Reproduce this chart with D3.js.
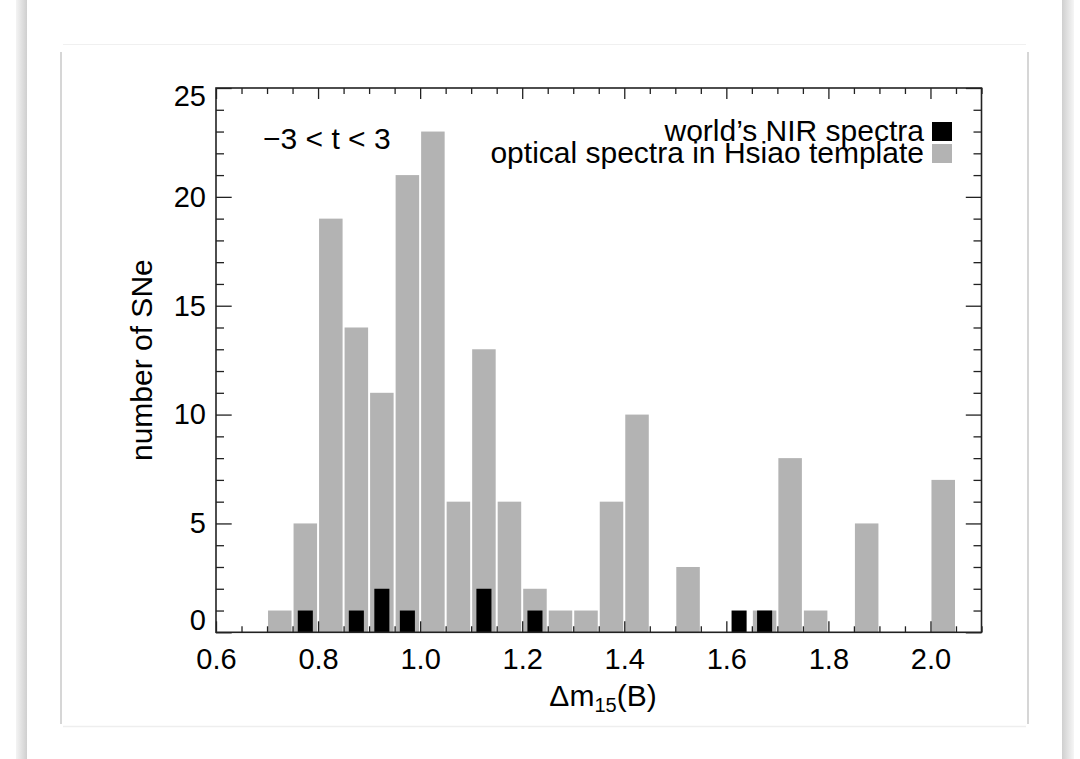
<!DOCTYPE html>
<html>
<head>
<meta charset="utf-8">
<script src="https://cdn.jsdelivr.net/npm/d3@7"></script>
<style>
  html, body { margin: 0; padding: 0; background: #fff; }
  svg { display: block; font-family: "Liberation Sans", Arial, Helvetica, sans-serif; }
</style>
</head>
<body>
<svg id="chart" width="1080" height="759"></svg>
<script>
// ---- data ----
const binStarts = [0.70,0.75,0.80,0.85,0.90,0.95,1.00,1.05,1.10,1.15,1.20,1.25,1.30,1.35,1.40,1.45,1.50,1.55,1.60,1.65,1.70,1.75,1.80,1.85,1.90,1.95,2.00];
const opticalCounts = [1,5,19,14,11,21,23,6,13,6,2,1,1,6,10,0,3,0,0,1,8,1,0,5,0,0,7];
const nirCounts     = [0,1,0,1,2,1,0,0,2,0,1,0,0,0,0,0,0,0,1,1,0,0,0,0,0,0,0];
const binWidth = 0.05;
const xTicks = [0.6,0.8,1.0,1.2,1.4,1.6,1.8,2.0];
const xTickLabels = ["0.6","0.8","1.0","1.2","1.4","1.6","1.8","2.0"];
const yTicks = [0,5,10,15,20,25];
const xDomain = [0.6, 2.1];
const yDomain = [0, 25];
const seriesNames = ["world\u2019s NIR spectra", "optical spectra in Hsiao template"];
const seriesColors = ["#000000", "#b3b3b3"];
const annotation = "\u22123 < t < 3";
const xLabel = ["\u0394m", "15", "(B)"];
const yLabel = "number of SNe";

// ---- layout ----
const L = 216, R = 981.5, T = 88, B = 632.3;
const svg = d3.select("#chart");

// page decoration: side shadows and card
const defs = svg.append("defs");
const gl = defs.append("linearGradient").attr("id","gl").attr("x1","0").attr("x2","1");
gl.append("stop").attr("offset","0").attr("stop-color","#f4f4f4");
gl.append("stop").attr("offset","1").attr("stop-color","#cfcfcf");
const gr = defs.append("linearGradient").attr("id","gr").attr("x1","0").attr("x2","1");
gr.append("stop").attr("offset","0").attr("stop-color","#cfcfcf");
gr.append("stop").attr("offset","1").attr("stop-color","#f6f6f6");
svg.append("rect").attr("x",16).attr("y",0).attr("width",11).attr("height",759).attr("fill","url(#gl)");
svg.append("rect").attr("x",1062).attr("y",0).attr("width",12).attr("height",759).attr("fill","url(#gr)");
svg.append("line").attr("x1",63).attr("x2",1026).attr("y1",44.5).attr("y2",44.5).attr("stroke","#f0f0f0").attr("stroke-width",1);
svg.append("line").attr("x1",63).attr("x2",1026).attr("y1",726.5).attr("y2",726.5).attr("stroke","#eeeeee").attr("stroke-width",1.5);
svg.append("line").attr("x1",61).attr("x2",61).attr("y1",52).attr("y2",724).attr("stroke","#d6d6d6").attr("stroke-width",2);
svg.append("line").attr("x1",1028).attr("x2",1028).attr("y1",52).attr("y2",724).attr("stroke","#d6d6d6").attr("stroke-width",2);

const x = d3.scaleLinear().domain(xDomain).range([L, R]);
const y = d3.scaleLinear().domain(yDomain).range([B, T]);

const bins = binStarts.map((s, i) => ({ s, opt: opticalCounts[i], nir: nirCounts[i] }));

// gray optical bars
svg.append("g").selectAll("rect").data(bins.filter(d => d.opt > 0)).join("rect")
  .attr("x", d => x(d.s) + 1)
  .attr("width", d => x(d.s + binWidth) - x(d.s) - 2)
  .attr("y", d => y(d.opt))
  .attr("height", d => y(0) - y(d.opt))
  .attr("fill", seriesColors[1]);

// black NIR bars (narrower, centred)
const nirFrac = 0.59;
svg.append("g").selectAll("rect").data(bins.filter(d => d.nir > 0)).join("rect")
  .attr("x", d => { const w = (x(d.s + binWidth) - x(d.s)) * nirFrac; return x(d.s + binWidth/2) - w/2; })
  .attr("width", d => (x(d.s + binWidth) - x(d.s)) * nirFrac)
  .attr("y", d => y(d.nir))
  .attr("height", d => y(0) - y(d.nir))
  .attr("fill", seriesColors[0]);

// axes
const axisColor = "#222";
const fontSize = 30;
const tickFont = 29;
const yMinor = d3.range(yDomain[0], yDomain[1] + 1).filter(v => v % 5 !== 0);
const xMinor = d3.range(0, 31).map(i => +(0.6 + i * 0.05).toFixed(2)).filter(v => Math.abs(v*5 - Math.round(v*5)) > 1e-6);

function styleAxis(g) {
  g.select(".domain").remove();
  g.selectAll(".tick line").attr("stroke", axisColor).attr("stroke-width", 1.3);
  g.selectAll("text").attr("font-size", tickFont).attr("fill", "#000").attr("font-family", "Liberation Sans, Arial, sans-serif");
}

// left
svg.append("g").attr("transform", `translate(${L},0)`)
  .call(d3.axisLeft(y).tickValues(yTicks).tickSize(-15.7).tickPadding(10).tickFormat(d3.format("d")))
  .call(styleAxis)
  .call(g => g.selectAll(".tick text").attr("dy", d => d === 0 ? "-0.1em" : d === 25 ? "0.62em" : "0.32em"));
svg.append("g").attr("transform", `translate(${L},0)`)
  .call(d3.axisLeft(y).tickValues(yMinor).tickSize(-8).tickFormat(""))
  .call(styleAxis);
// right
svg.append("g").attr("transform", `translate(${R},0)`)
  .call(d3.axisRight(y).tickValues(yTicks).tickSize(-15.7).tickFormat(""))
  .call(styleAxis);
svg.append("g").attr("transform", `translate(${R},0)`)
  .call(d3.axisRight(y).tickValues(yMinor).tickSize(-8).tickFormat(""))
  .call(styleAxis);
// bottom
svg.append("g").attr("transform", `translate(0,${B})`)
  .call(d3.axisBottom(x).tickValues(xTicks).tickSize(-11).tickPadding(16).tickFormat((d, i) => xTickLabels[i]))
  .call(styleAxis);
svg.append("g").attr("transform", `translate(0,${B})`)
  .call(d3.axisBottom(x).tickValues(xMinor).tickSize(-6).tickFormat(""))
  .call(styleAxis);
// top
svg.append("g").attr("transform", `translate(0,${T})`)
  .call(d3.axisTop(x).tickValues(xTicks).tickSize(-11).tickFormat(""))
  .call(styleAxis);
svg.append("g").attr("transform", `translate(0,${T})`)
  .call(d3.axisTop(x).tickValues(xMinor).tickSize(-6).tickFormat(""))
  .call(styleAxis);

// frame
svg.append("rect").attr("x", L).attr("y", T).attr("width", R - L).attr("height", B - T)
  .attr("fill", "none").attr("stroke", axisColor).attr("stroke-width", 1.6);

// annotation
svg.append("text").attr("x", 263).attr("y", 149).attr("font-size", fontSize).text(annotation);

// legend
const legY = [141, 163];
seriesNames.forEach((name, i) => {
  svg.append("text").attr("x", 924).attr("y", legY[i]).attr("text-anchor", "end")
    .attr("font-size", fontSize).text(name);
  svg.append("rect").attr("x", 932).attr("y", legY[i] - 19).attr("width", 20).attr("height", 19)
    .attr("fill", seriesColors[i]);
});

// axis titles
const xt = svg.append("text").attr("x", 603).attr("y", 706).attr("text-anchor", "middle").attr("font-size", fontSize);
xt.append("tspan").text(xLabel[0]);
xt.append("tspan").attr("font-size", 20).attr("dy", 6).text(xLabel[1]);
xt.append("tspan").attr("dy", -6).text(xLabel[2]);

svg.append("text").attr("transform", `translate(152,${(T + B) / 2}) rotate(-90)`)
  .attr("text-anchor", "middle").attr("font-size", fontSize).text(yLabel);
</script>
</body>
</html>
